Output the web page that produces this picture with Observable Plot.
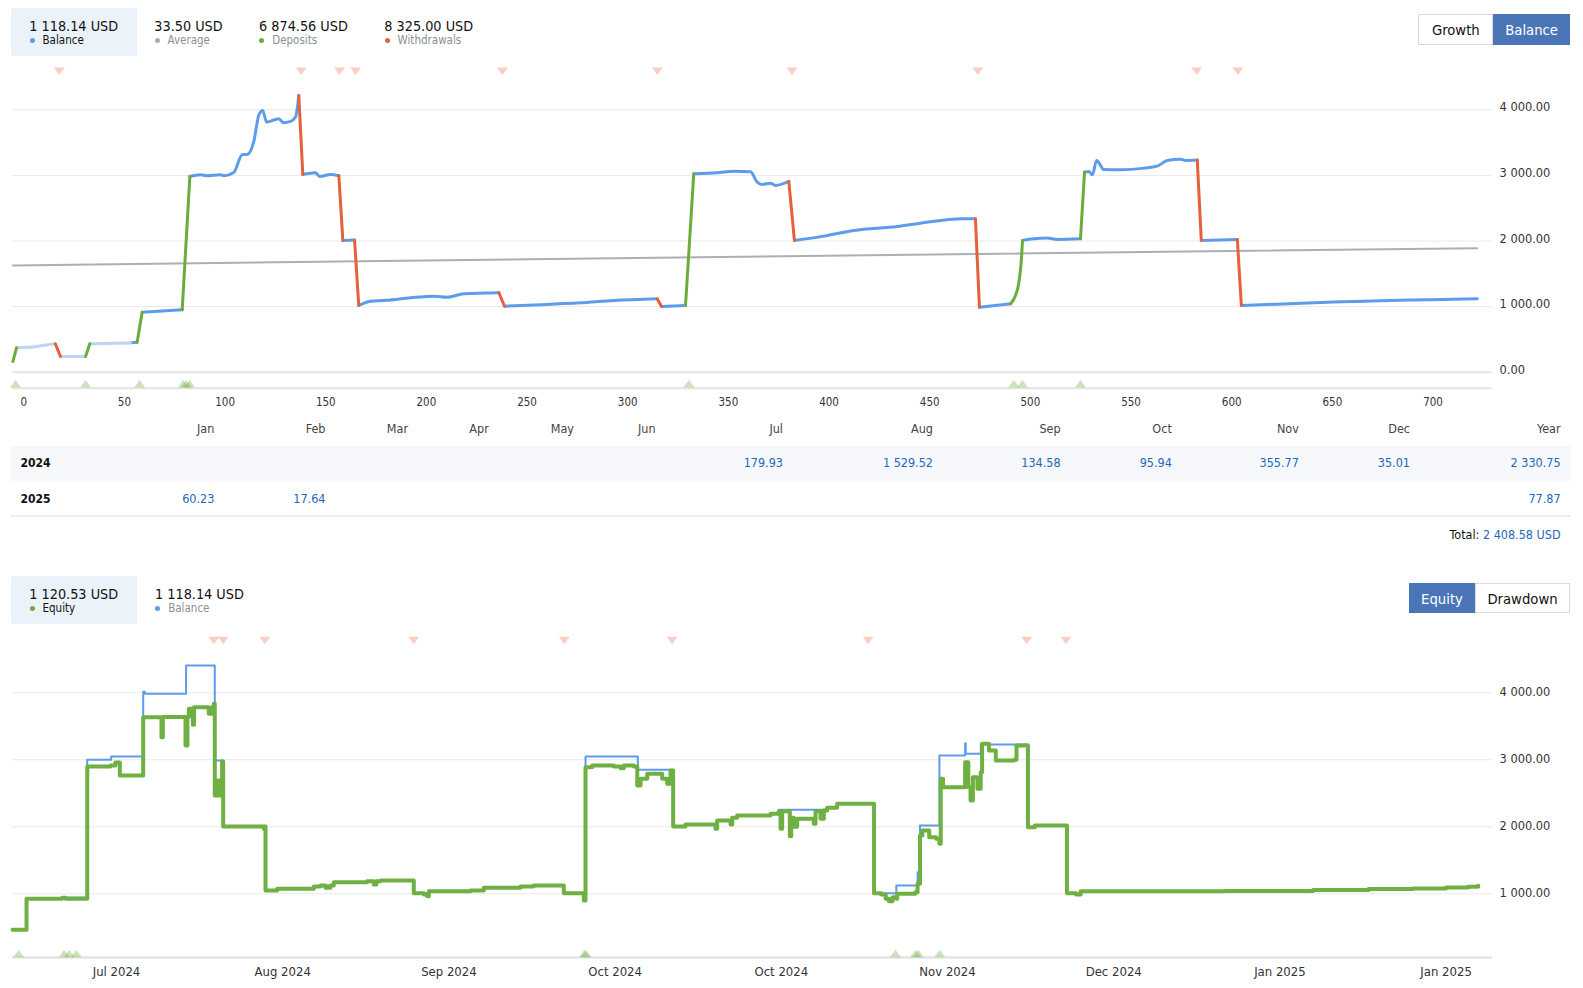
<!DOCTYPE html>
<html><head><meta charset="utf-8">
<script src="https://cdn.jsdelivr.net/npm/d3@7"></script>
<script src="https://cdn.jsdelivr.net/npm/@observablehq/plot@0.6"></script>
<style>
html,body{margin:0;padding:0;background:#fff;overflow:hidden}
#page{position:relative;width:1583px;height:988px;overflow:hidden;font-family:"DejaVu Sans Condensed","Liberation Sans",sans-serif;color:#111}
.abs{position:absolute;white-space:nowrap}
.box{position:absolute;background:#ebf2fa;border-radius:2px}
.val{position:absolute;white-space:nowrap;font-size:14.3px;line-height:20px;height:20px;color:#111}
.lab{position:absolute;white-space:nowrap;font-size:11.5px;line-height:16px;height:16px;color:#8a9097}
.dot{position:absolute;width:5px;height:5px;border-radius:50%}
.btn{position:absolute;display:flex;align-items:center;justify-content:center;font-size:14.7px;box-sizing:border-box}
.cell{position:absolute;white-space:nowrap;font-size:12.5px;line-height:18px;height:18px;text-align:right}
</style></head><body><div id="page"></div>
<script>
// ---------------- DATA ----------------
const statValues = [1118.14, 33.50, 6874.56, 8325.00];
const statLabels = ["Balance", "Average", "Deposits", "Withdrawals"];
const eqStatValues = [1120.53, 1118.14];
const eqStatLabels = ["Equity", "Balance"];

// top chart: balance by trade index
const topIdx = [-5.4,-3.6,6.6,12,15.7,18.2,30.7,32.8,53,56.3,58.8,78.7,82.5,87.8,91.1,97.7,99.4,104.3,108.5,111,114.3,116.7,118.7,120.6,126.7,128.9,132.5,135,136.6,138.6,144.9,147,152.4,156.5,158.5,164.3,166.4,172.2,180,192.1,203.7,210.3,218.6,236,238.8,256.7,276.5,293.1,314.6,316.8,328.7,332.8,344.4,352.7,361,364.3,366.8,370.9,373.4,380,382.8,397.4,412.3,433.9,445.4,466.1,472.7,474.7,490.2,492.6,494.2,495.5,496.1,501.7,508.3,513.3,524.9,526.9,529,530.8,532.9,536.5,544.8,556.4,563,568,574.6,577.1,582.9,584.9,602.8,604.8,647.5,722];
const topBal = [163,372,392,420,433,240,240,433,447,457,915,951,2984,3010,2995,3010,2995,3045,3315,3320,3523,3914,3990,3812,3864,3803,3823,3889,4219,3015,3040,2984,3015,2995,2008,2015,1017,1083,1095,1134,1159,1144,1195,1211,1006,1028,1058,1093,1119,1002,1017,3025,3040,3065,3055,2897,2862,2882,2847,2908,2008,2074,2161,2222,2272,2339,2339,991,1043,1170,1348,1703,2008,2034,2044,2024,2034,3050,3060,3010,3228,3091,3086,3111,3141,3228,3248,3228,3233,2008,2024,1017,1067,1120];
// segment kind: b balance, p early, d deposit, w withdrawal
const topSeg = "dpppwpdpbdbdbbbbbbbbbbbbbbbbwbbbbwbwbbbbbbbwbbbbwbdbbbbbbbbwbbbbbbwbddddbbbbdbbbbbbbbbbbwbwbb";
const avgIdx = [-5.4, 722];
const avgVal = [1627, 1891];
const topWithdrawIdx = [17.6,137.8,156.8,164.8,237.7,314.7,381.6,473.9,582.6,603.1];
const topDepositIdx = [-4.1,30.7,57.6,79.2,80.8,82.4,330.4,491.8,496,524.9];
const topXTicks = [0,50,100,150,200,250,300,350,400,450,500,550,600,650,700];
const topYTicks = [0,1000,2000,3000,4000];

// monthly table
const months = ["Jan","Feb","Mar","Apr","May","Jun","Jul","Aug","Sep","Oct","Nov","Dec"];
const years = ["2024","2025"];
const monthly2024 = [null,null,null,null,null,null,179.93,1529.52,134.58,95.94,355.77,35.01];
const monthly2025 = [60.23,17.64,null,null,null,null,null,null,null,null,null,null];
const yearTotals = [2330.75, 77.87];
const grandTotal = 2408.58;

// bottom chart: equity & balance (step)
const botEqIdx = [6.2,18.8,51,54,73.6,94.6,99,103,124.1,140.6,141.8,162.3,164,165.3,168.9,170,183.3,186.4,187.8,188.7,191,193.5,195.3,196.3,232.9,234,234.5,245,278.1,284.1,288.6,293.1,296.1,326.3,332.2,334.5,338.3,368.3,377.4,380.4,381.9,419.5,431.5,464.6,476.6,503.7,521.8,523.3,529.3,548.8,554.9,557.9,566.9,570,573,579,592.5,597,600,602.4,613.5,640.6,642.1,654.2,655.7,660.2,690.3,697.7,699.3,700.8,707.7,709,711.3,714.3,729.3,730.9,735.4,738.4,741.4,750.4,783.7,790.1,794.2,797.1,800.4,803.8,804.6,821,823,825.2,827.3,833.5,839.8,842.7,843.9,846,865.9,868.8,870.8,872.9,877,880,881.2,887.4,893.6,910.2,912.3,922.6,928.8,957.8,966,970.2,1100,1180,1230,1270,1300,1320,1329];
const botEqVal = [463,925,940,925,2900,2915,2960,2766,3636,3337,3640,3213,3640,3761,3522,3786,3686,3786,3836,2467,2690,2467,2975,2004,1970,2004,1049,1075,1109,1124,1090,1124,1173,1188,1139,1188,1199,1009,990,965,1039,1049,1089,1109,1124,1009,900,2890,2916,2900,2875,2916,2900,2616,2716,2791,2716,2642,2841,2004,2034,1970,2094,2034,2134,2169,2194,2233,1970,2233,1860,2134,2000,2119,2044,2233,2119,2243,2283,2343,1009,990,925,890,950,925,1000,1024,1149,1870,1945,1845,1820,1746,2716,2591,2964,2591,2393,2740,2567,2815,3239,3139,2990,3000,3213,1994,2019,1009,990,1039,1042,1055,1070,1080,1095,1105,1120];
const botBalIdx = [6.2,18.8,51,73.6,95.2,124.1,125.5,162.8,188.7,196.3,234.5,245,278.1,284.1,296.1,326.3,338.3,368.3,381.9,419.5,431.5,464.6,476.6,503.7,523.3,570.5,602.4,613.5,642.1,655.7,660.2,690.3,697.7,741.4,750.4,783.7,803.8,823,825.2,842.7,865.9,866.5,880,922.6,928.8,957.8,970.2,1100,1180,1230,1270,1300,1320,1329];
const botBalVal = [463,925,945,3000,3049,4015,3985,4407,2990,2004,1049,1075,1109,1124,1173,1188,1199,1009,1039,1049,1089,1109,1124,1009,3049,2851,2004,2034,2094,2134,2169,2194,2254,2283,2343,1009,1124,1323,2019,3064,3248,3090,3228,1994,2019,1009,1039,1042,1055,1070,1080,1095,1105,1118];
const botWithdrawIdx = [187.8,196.3,233.8,368.3,504.1,601.5,778.4,921.5,956.9];
const botDepositIdx = [11.7,52.7,57.3,63.7,522.3,523.8,803,821.1,823.8,843];
const botXTicks = [100,250,400,550,700,850,1000,1150,1300];
const botXLabels = ["Jul 2024","Aug 2024","Sep 2024","Oct 2024","Oct 2024","Nov 2024","Dec 2024","Jan 2025","Jan 2025"];
const botYTicks = [1000,2000,3000,4000];

// ---------------- LAYOUT / STYLE ----------------
const W = 1583;
const C = {blue:"#5d9cec", pale:"#bcd5f3", green:"#6aad3d", red:"#e5603b", gray:"#a9adb2", eq:"#6fb043"};
const fmt = v => d3.format(",.2f")(v).replace(/,/g, " ");
const page = document.getElementById("page");
function el(cls, style, text) {
  const d = document.createElement("div");
  d.className = cls; Object.assign(d.style, style);
  if (text != null) d.textContent = text;
  page.appendChild(d); return d;
}
function statItem(x, cy, value, label, color, selected) {
  el("val", {left: x + "px", top: (cy - 10) + "px"}, value);
  el("lab", {left: (x + 13.2) + "px", top: (cy + 13.8 - 8) + "px", color: selected ? "#111" : "#8a9097"}, label);
  el("dot", {left: (x + 2.9 - 2.5) + "px", top: (cy + 14.8 - 2.5) + "px", background: color});
}

// top header
el("box", {left:"11px", top:"8.3px", width:"125.7px", height:"47.4px"});
const topStatX = [29.3, 154.3, 259, 384.3];
const topStatColors = [C.blue, C.gray, C.green, C.red];
statValues.forEach((v, i) => statItem(topStatX[i], 25.7, fmt(v) + " USD", statLabels[i], topStatColors[i], i === 0));
el("btn", {left:"1418.3px", top:"14.3px", width:"75px", height:"30.7px", border:"1px solid #dadada", background:"#fff", color:"#111"}, "Growth");
el("btn", {left:"1493.3px", top:"14.3px", width:"76.7px", height:"30.7px", background:"#4a76b8", color:"#fff"}, "Balance");

// triangle symbols
const triDown = {draw(ctx, size){ const r = Math.sqrt(size/Math.PI), w = r*1.3, h = r*0.88; ctx.moveTo(-w,-h); ctx.lineTo(w,-h); ctx.lineTo(0,h); ctx.closePath(); }};
const triUp = {draw(ctx, size){ const r = Math.sqrt(size/Math.PI), w = r*1.3, h = r*0.88; ctx.moveTo(-w,h); ctx.lineTo(w,h); ctx.lineTo(0,-h); ctx.closePath(); }};
const wMark = {symbol: triDown, r: 4.2, fill: "#ef6c45", fillOpacity: 0.33};
const dMark = {symbol: triUp, r: 4.2, fill: C.green, fillOpacity: 0.35};

// top chart: group consecutive segments of same kind into runs (shared endpoints)
const topYDomain = [-243.9, 4751.5];
const runRows = [];
let run = -1, prevK = null;
topSeg.split("").forEach((k, i) => {
  if (k !== prevK) { run++; runRows.push({x: topIdx[i], y: topBal[i], run, k}); prevK = k; }
  runRows.push({x: topIdx[i+1], y: topBal[i+1], run, k});
});
const segColor = {b: C.blue, p: C.pale, d: C.green, w: C.red};
const runLine = k => Plot.line(runRows.filter(r => r.k === k), {x: "x", y: "y", z: "run", stroke: segColor[k], strokeWidth: 3, curve: "monotone-x"});
const axisStyle = {fontFamily: '"DejaVu Sans Condensed","Liberation Sans",sans-serif', fontSize: "12.7px", color: "#333", background: "transparent", overflow: "visible"};

const topPlot = Plot.plot({
  width: W, height: 355,
  marginLeft: 12, marginRight: 91.3, marginTop: 0, marginBottom: 27.3,
  x: {domain: [-5.6, 729.4]},
  y: {domain: topYDomain},
  style: axisStyle,
  marks: [
    Plot.gridY(topYTicks.filter(d => d > 0), {stroke: "#e9e9e9", strokeOpacity: 1}),
    Plot.ruleY([0], {stroke: "#e4e4e4", strokeWidth: 2}),
    Plot.ruleY([topYDomain[0]], {stroke: "#e4e4e4", strokeWidth: 2}),
    Plot.line(avgIdx.map((x, i) => ({x, y: avgVal[i]})), {x: "x", y: "y", stroke: "#aab0b5", strokeWidth: 2}),
    runLine("b"), runLine("p"), runLine("w"), runLine("d"),
    Plot.dot(topWithdrawIdx, {x: d => d, frameAnchor: "top", dy: 10.8, ...wMark}),
    Plot.dot(topDepositIdx, {x: d => d, frameAnchor: "bottom", dy: -4.4, ...dMark}),
    Plot.axisX({ticks: topXTicks, tickSize: 0, tickPadding: 9.3, fontSize: 11.5, label: null, tickFormat: d => String(d)}),
    Plot.axisY({anchor: "right", ticks: topYTicks, tickSize: 0, tickPadding: 7.3, label: null, tickFormat: fmt, dy: -2.4})
  ]
});
const topHost = el("abs", {left: "0px", top: "60px"});
topHost.appendChild(topPlot);

// table
const colRight = [214.3, 325.5, 408, 488.8, 574, 655.6, 783, 933, 1060.6, 1171.8, 1298.9, 1410, 1560.6];
const rowCy = [462.7, 499.3];
el("abs", {left: "11px", top: "445.7px", width: "1560px", height: "35.3px", background: "#f6f8fc"});
el("abs", {left: "11px", top: "515px", width: "1560px", height: "2px", background: "#ececec"});
months.concat(["Year"]).forEach((m, i) => el("cell", {right: (W - colRight[i]) + "px", top: (429.3 - 9) + "px", color: "#444"}, m));
[monthly2024, monthly2025].forEach((row, r) => {
  el("cell", {left: "20.4px", top: (rowCy[r] - 9) + "px", color: "#111", textAlign: "left", fontWeight: "bold", fontSize: "12px"}, years[r]);
  row.forEach((v, i) => { if (v != null) el("cell", {right: (W - colRight[i]) + "px", top: (rowCy[r] - 9) + "px", color: "#2369b7"}, fmt(v)); });
  el("cell", {right: (W - colRight[12]) + "px", top: (rowCy[r] - 9) + "px", color: "#2369b7"}, fmt(yearTotals[r]));
});
const tot = el("cell", {right: (W - colRight[12]) + "px", top: (535 - 9) + "px", color: "#111"});
tot.innerHTML = 'Total: <span style="color:#2369b7">' + fmt(grandTotal) + ' USD</span>';

// bottom header
el("box", {left:"11px", top:"576px", width:"125.7px", height:"48.3px"});
const botStatX = [29.3, 155];
const botStatColors = [C.green, C.blue];
eqStatValues.forEach((v, i) => statItem(botStatX[i], 593.8, fmt(v) + " USD", eqStatLabels[i], botStatColors[i], i === 0));
el("btn", {left:"1409px", top:"583.3px", width:"66px", height:"30px", background:"#4a76b8", color:"#fff"}, "Equity");
el("btn", {left:"1475px", top:"583.3px", width:"95px", height:"30px", border:"1px solid #dadada", background:"#fff", color:"#111"}, "Drawdown");

// bottom chart
const botYDomain = [49.3, 5004.5];
const botLabelMap = new Map(botXTicks.map((t, i) => [t, botXLabels[i]]));
const eqData = botEqIdx.map((x, i) => ({x, y: botEqVal[i]}));
const balData = botBalIdx.map((x, i) => ({x, y: botBalVal[i]}));
const botPlot = Plot.plot({
  width: W, height: 358,
  marginLeft: 12, marginRight: 91.3, marginTop: 0, marginBottom: 26,
  x: {domain: [6.14, 1341.6]},
  y: {domain: botYDomain},
  style: axisStyle,
  marks: [
    Plot.gridY(botYTicks, {stroke: "#e9e9e9", strokeOpacity: 1}),
    Plot.ruleY([botYDomain[0]], {stroke: "#e4e4e4", strokeWidth: 2.3}),
    Plot.line(balData, {x: "x", y: "y", curve: "step-after", stroke: C.blue, strokeWidth: 2}),
    Plot.line(eqData, {x: "x", y: "y", curve: "step-after", stroke: C.eq, strokeWidth: 4}),
    Plot.dot(botWithdrawIdx, {x: d => d, frameAnchor: "top", dy: 15, ...wMark}),
    Plot.dot(botDepositIdx, {x: d => d, frameAnchor: "bottom", dy: -4, ...dMark}),
    Plot.axisX({ticks: botXTicks, tickSize: 0, tickPadding: 9.7, fontSize: 13, label: null, tickFormat: d => botLabelMap.get(d)}),
    Plot.axisY({anchor: "right", ticks: botYTicks, tickSize: 0, tickPadding: 7.3, label: null, tickFormat: fmt, dy: -1})
  ]
});
const botHost = el("abs", {left: "0px", top: "625px"});
botHost.appendChild(botPlot);
</script></body></html>
